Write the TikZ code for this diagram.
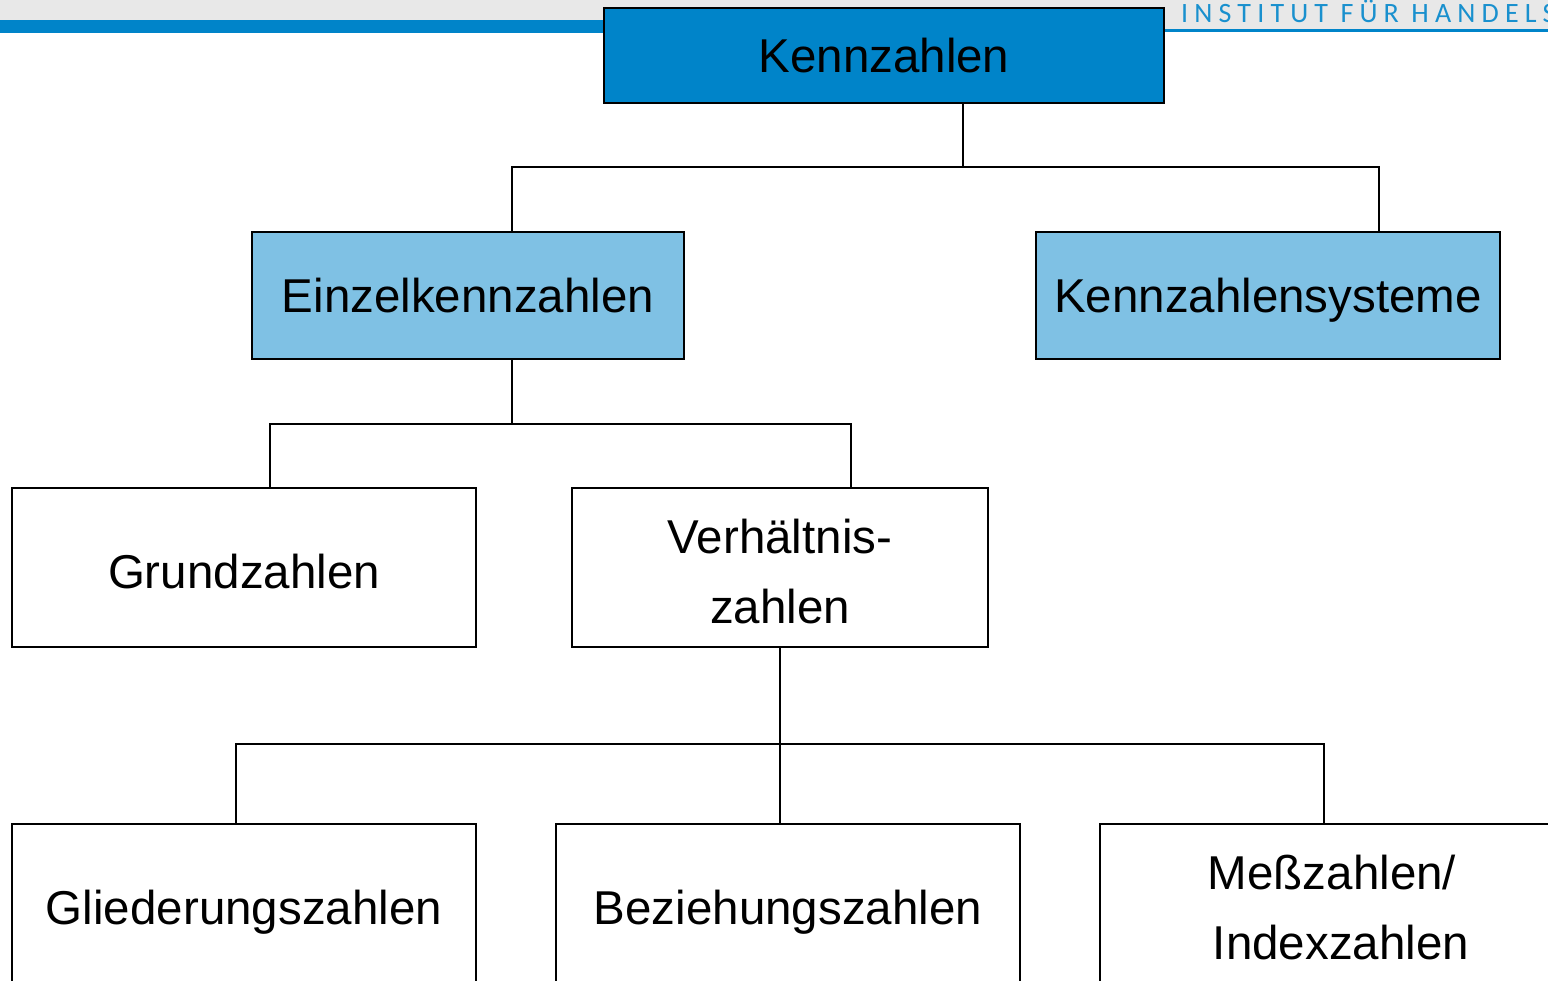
\documentclass[tikz,border=0pt]{standalone}
\usepackage{fontspec}
\setmainfont{Liberation Sans}
\newfontfamily\hdrfont[LetterSpace=22]{Carlito}
\definecolor{kdark}{HTML}{0084C9}
\definecolor{klight}{HTML}{7FC1E4}
\definecolor{kgray}{HTML}{E8E8E8}
\tikzset{
  boxbase/.style={draw=black, line width=1.5pt, rectangle, inner sep=0pt,
    font=\fontsize{47.5}{70}\selectfont},
  onebox/.style={boxbase, text height=42pt, text depth=0pt},
  topbox/.style={boxbase, text height=34pt, text depth=0pt},
  twobox/.style={boxbase, align=center},
  conn/.style={draw=black, line width=1.5pt, line join=miter},
}
\begin{document}
\begin{tikzpicture}[x=1pt,y=-1pt]
\useasboundingbox (0,0) rectangle (1548,981);
\clip (0,0) rectangle (1548,981);
% header
\fill[kgray] (0,0) rectangle (1548,20);
\fill[kgray] (1165,20) rectangle (1548,30);
\fill[kdark] (0,20) rectangle (604,33);
\fill[kdark] (1165,29.5) rectangle (1548,32);
\node[anchor=base west, inner sep=0pt, text=kdark!90, font=\hdrfont\fontsize{28}{30}\selectfont] (hdr) at (1181,23) {INSTITUT FÜR HANDELS};
% level 0
\node[topbox, fill=kdark, minimum width=560pt, minimum height=95pt] (k) at (884,55.5) {Kennzahlen};
% level 1
\node[topbox, fill=klight, minimum width=432pt, minimum height=127pt] (e) at (468,295.5) {Einzelkennzahlen};
\node[topbox, fill=klight, minimum width=464pt, minimum height=127pt] (s) at (1268,295.5) {Kennzahlensysteme};
% level 2
\node[onebox, fill=white, minimum width=464pt, minimum height=159pt] (g) at (244,567.5) {Grundzahlen};
\node[twobox, fill=white, minimum width=416pt, minimum height=159pt] (v) at (780,567.5) {\rule{0pt}{42pt}Verhältnis-\\zahlen};
% level 3
\node[onebox, fill=white, minimum width=464pt, minimum height=159pt] (gl) at (244,903.5) {Gliederungszahlen};
\node[onebox, fill=white, minimum width=464pt, minimum height=159pt] (b) at (788,903.5) {Beziehungszahlen};
\node[twobox, fill=white, minimum width=464pt, minimum height=159pt] (m) at (1332,903.5) {\rule{0pt}{42pt}Meßzahlen/\\\hspace*{18pt}Indexzahlen};
% connectors
\coordinate (j0) at (963,167);
\coordinate (ea) at (512,167);
\coordinate (sa) at (1379,167);
\draw[conn] (k.south -| j0) -- (j0);
\draw[conn] (e.north -| ea) -- (ea) -- (sa) -- (s.north -| sa);
\coordinate (j1) at (512,424);
\coordinate (ga) at (270,424);
\coordinate (va) at (851,424);
\draw[conn] (e.south -| j1) -- (j1);
\draw[conn] (g.north -| ga) -- (ga) -- (va) -- (v.north -| va);
\coordinate (j2) at (780,744);
\coordinate (gla) at (236,744);
\coordinate (ma) at (1324,744);
\draw[conn] (v.south) -- (j2) -- (b.north -| j2);
\draw[conn] (gl.north -| gla) -- (gla) -- (ma) -- (m.north -| ma);
\end{tikzpicture}
\end{document}
